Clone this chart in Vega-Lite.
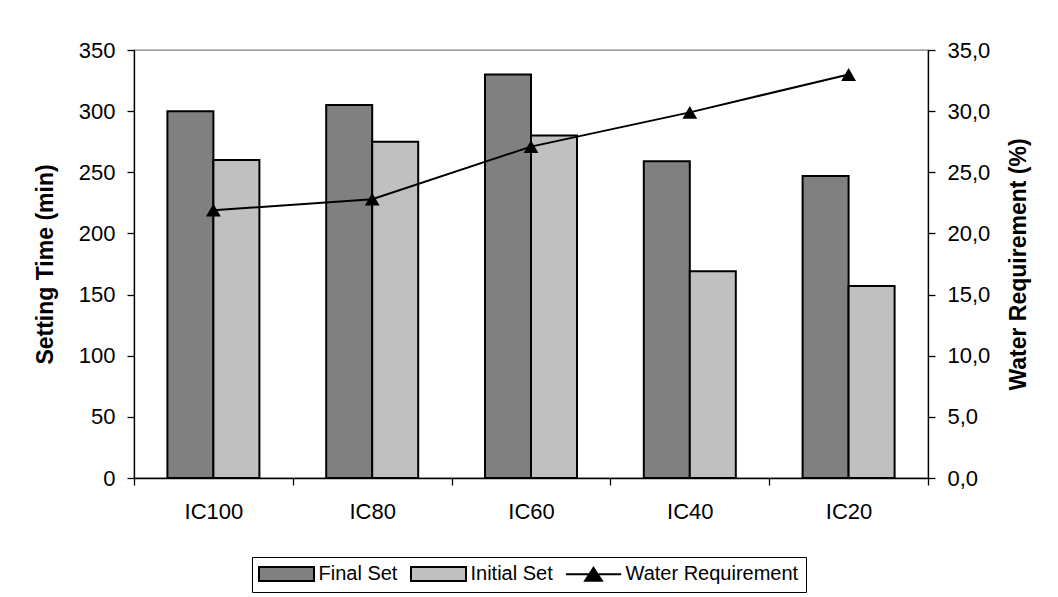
{
  "$schema": "https://vega.github.io/schema/vega-lite/v6.json",
  "width": 794,
  "height": 428,
  "autosize": {"type": "none"},
  "padding": {"left": 134, "top": 50, "right": 130, "bottom": 119},
  "background": "white",
  "config": {
    "font": "Liberation Sans",
    "view": {"stroke": "#808080", "strokeWidth": 1.3},
    "axis": {"grid": false, "domainColor": "black", "domainWidth": 1.3, "tickColor": "black", "tickWidth": 1.3, "tickSize": 7, "labelColor": "black", "labelFont": "Liberation Sans", "labelFontSize": 22, "titleColor": "black", "titleFont": "Liberation Sans", "titleFontSize": 23, "titleFontWeight": "bold"},
    "legend": {"symbolStrokeColor": "black", "symbolStrokeWidth": 2}
  },
  "datasets": {
    "bars": [
      {"cat": "IC100", "series": "Final Set", "minutes": 300},
      {"cat": "IC100", "series": "Initial Set", "minutes": 260},
      {"cat": "IC80", "series": "Final Set", "minutes": 305},
      {"cat": "IC80", "series": "Initial Set", "minutes": 275},
      {"cat": "IC60", "series": "Final Set", "minutes": 330},
      {"cat": "IC60", "series": "Initial Set", "minutes": 280},
      {"cat": "IC40", "series": "Final Set", "minutes": 259},
      {"cat": "IC40", "series": "Initial Set", "minutes": 169},
      {"cat": "IC20", "series": "Final Set", "minutes": 247},
      {"cat": "IC20", "series": "Initial Set", "minutes": 157}
    ],
    "water": [
      {"cat": "IC100", "water": 21.9},
      {"cat": "IC80", "water": 22.8},
      {"cat": "IC60", "water": 27.1},
      {"cat": "IC40", "water": 29.9},
      {"cat": "IC20", "water": 33.0}
    ]
  },
  "layer": [
    {
      "data": {"name": "bars"},
      "mark": {"type": "bar", "stroke": "black", "strokeWidth": 2},
      "encoding": {
        "x": {
          "field": "cat", "type": "nominal",
          "sort": ["IC100", "IC80", "IC60", "IC40", "IC20"],
          "scale": {"paddingInner": 0, "paddingOuter": 0},
          "axis": {"title": null, "labelAngle": 0, "tickBand": "extent", "labelBaseline": "middle", "labelPadding": 26}
        },
        "xOffset": {
          "field": "series", "type": "nominal",
          "sort": ["Final Set", "Initial Set"],
          "scale": {"paddingInner": 0, "paddingOuter": 0.726}
        },
        "y": {
          "field": "minutes", "type": "quantitative",
          "scale": {"domain": [0, 350], "nice": false},
          "axis": {"orient": "left", "values": [0, 50, 100, 150, 200, 250, 300, 350], "labelPadding": 12, "title": "Setting Time (min)", "titleX": -89, "titleY": 214, "titleAngle": -90, "titleAlign": "center", "titleBaseline": "middle"}
        },
        "fill": {
          "field": "series", "type": "nominal",
          "scale": {"domain": ["Final Set", "Initial Set", "Water Requirement"], "range": ["#808080", "#C0C0C0", "#000000"]},
          "legend": {
            "orient": "none", "legendX": 118, "legendY": 507,
            "direction": "horizontal", "title": null,
            "strokeColor": "black", "fillColor": "white", "padding": 7,
            "labelFont": "Liberation Sans", "labelFontSize": 20, "labelColor": "black", "labelLimit": 400,
            "symbolSize": 196, "symbolOffset": 17.5, "labelOffset": 22, "columnPadding": 8,
            "symbolStrokeColor": "black", "symbolStrokeWidth": 2,
            "encoding": {
              "symbols": {
                "shape": {"condition": {"test": "datum.value === 'Water Requirement'", "value": "M-3.95,0H3.95M-1.2,0.93L0,-0.93L1.2,0.93Z"}, "value": "M-3.93,-1H3.93V1H-3.93Z"},
                "stroke": {"value": "#000000"},
                "strokeWidth": {"value": 2},
                "opacity": {"value": 1}
              }
            }
          }
        }
      }
    },
    {
      "data": {"name": "water"},
      "mark": {"type": "line", "color": "black", "strokeWidth": 2, "point": {"shape": "triangle-up", "size": 220, "filled": true, "color": "black"}},
      "encoding": {
        "x": {"field": "cat", "type": "nominal", "sort": ["IC100", "IC80", "IC60", "IC40", "IC20"]},
        "y": {
          "field": "water", "type": "quantitative",
          "scale": {"domain": [0, 35], "nice": false},
          "axis": {"orient": "right", "values": [0, 5, 10, 15, 20, 25, 30, 35], "labelPadding": 12, "labelExpr": "replace(format(datum.value, '.1f'), '.', ',')", "title": "Water Requirement (%)", "titleX": 90, "titleY": 214, "titleAngle": -90, "titleAlign": "center", "titleBaseline": "middle"}
        }
      }
    }
  ],
  "resolve": {"scale": {"y": "independent"}}
}
